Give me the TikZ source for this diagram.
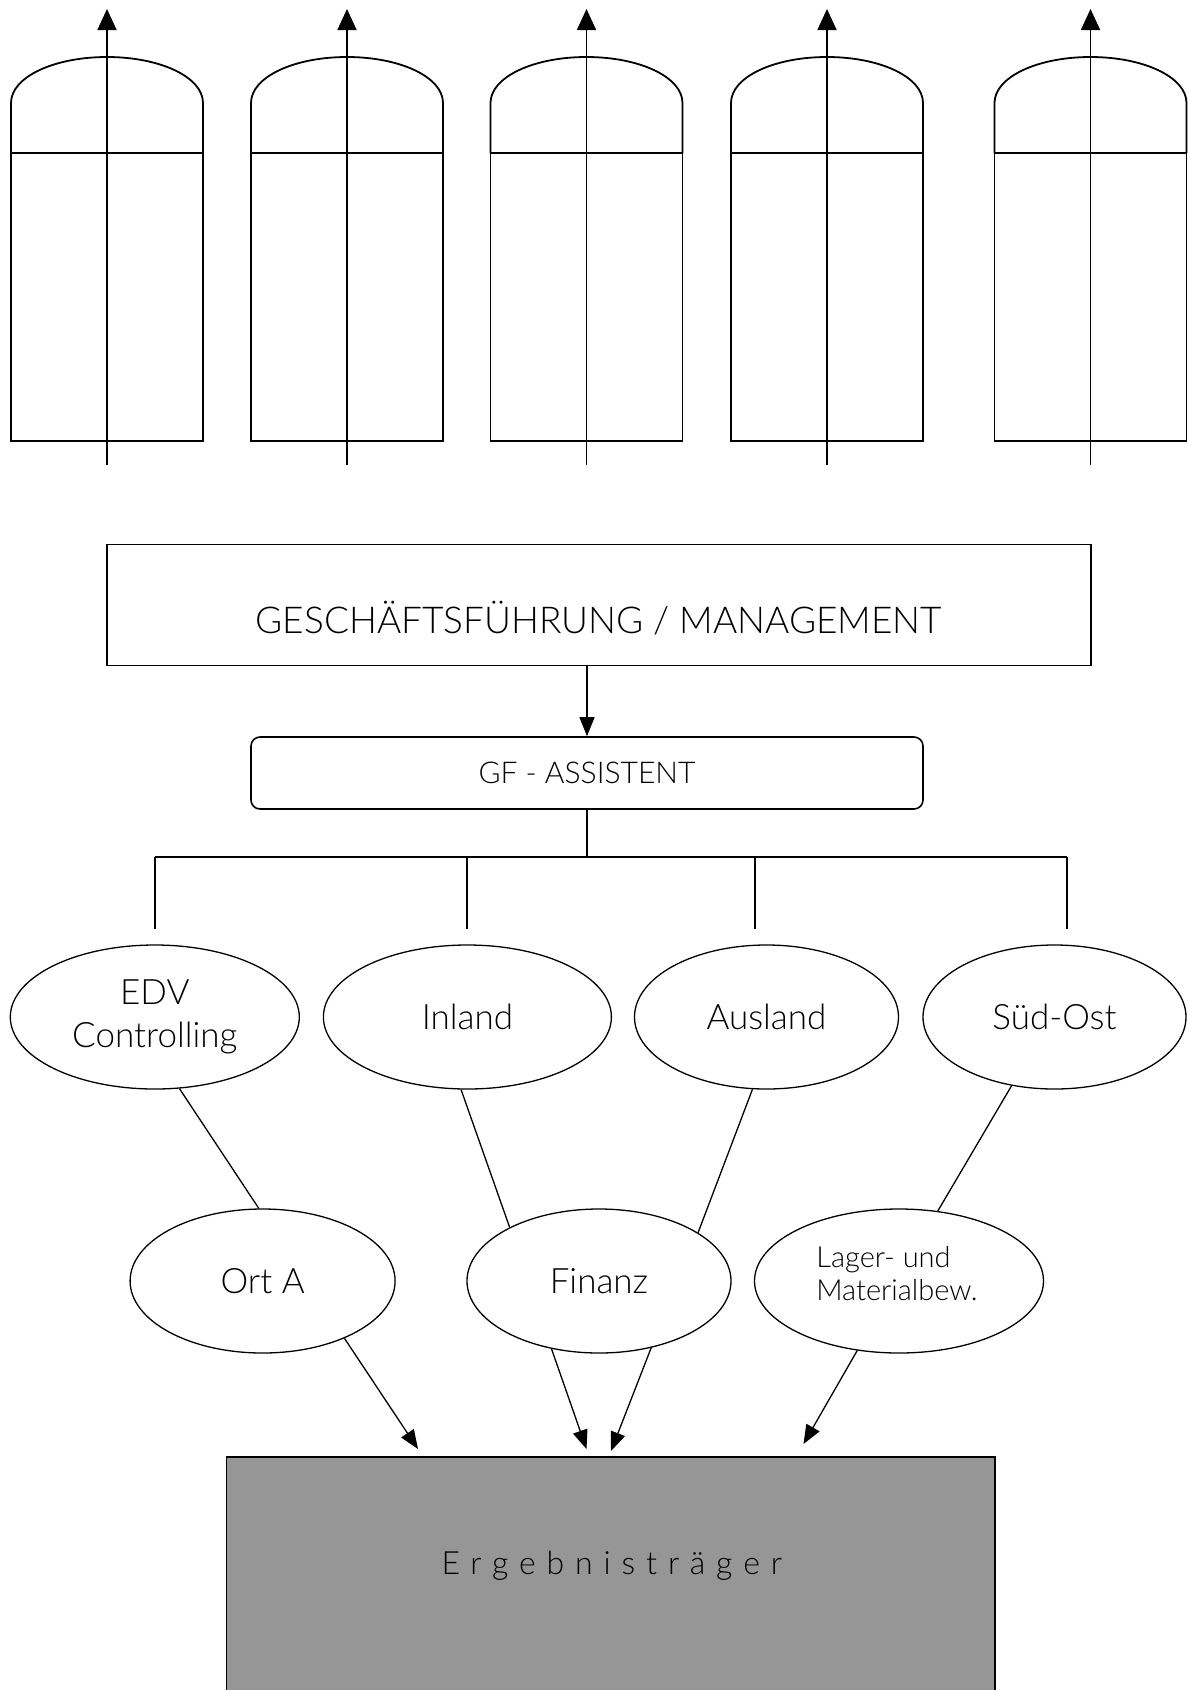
\documentclass[tikz,border=0pt]{standalone}
\usepackage{fontspec}
\setmainfont{Lato}[UprightFont={* Light}]
\usetikzlibrary{shapes.geometric,arrows.meta}
\begin{document}
\begin{tikzpicture}[x=1pt,y=-1pt,
  silo/.style={line width=1.8pt},
  uparrow/.style={line width=1.8pt,-{Triangle[length=21pt,width=19pt]}},
  conn/.style={line width=1.3pt},
  arr/.style={line width=1.3pt,-{Triangle[length=19pt,width=15pt]}},
  oval/.style={ellipse,draw,line width=1.3pt,inner sep=0pt,minimum height=144pt,font=\fontsize{35}{43}\selectfont,align=center},
  box/.style={draw,line width=1.6pt,inner sep=0pt}]
\useasboundingbox (0,0) rectangle (1187,1690);
% silos
\foreach \c in {107,347,586.5,827,1090.5}{
  \draw[silo] (\c-96,153) -- (\c-96,103) .. controls (\c-96,77) and (\c-53,57) .. (\c,57)
     .. controls (\c+53,57) and (\c+96,77) .. (\c+96,103) -- (\c+96,153);
  \draw[silo] (\c-96,153) rectangle (\c+96,441);
  \draw[uparrow] (\c,465) -- (\c,9);
}
% management
\node[box,minimum width=984pt,minimum height=121pt] (gf) at (598.85,604.8) {};
\node[font=\fontsize{37}{42}\selectfont] (gft) at (598.85,617.8) {GESCHÄFTSFÜHRUNG / MANAGEMENT};
\node[box,rounded corners=9pt,minimum width=672pt,minimum height=72pt,font=\fontsize{30}{34}\selectfont] (asst) at (587,773) {GF - ASSISTENT};
\draw[arr] (gf.south -| asst.north) -- (asst.north);
% bus
\coordinate (bus) at (587,857);
\coordinate (d1) at (155,929);
\coordinate (d2) at (467,929);
\coordinate (d3) at (755,929);
\coordinate (d4) at (1067,929);
\draw[conn] (asst.south) -- (bus);
\draw[conn] (d1 |- bus) -- (d4 |- bus);
\foreach \d in {d1,d2,d3,d4}{\draw[conn] (\d |- bus) -- (\d);}
% first row ellipses
\node[oval,minimum width=289pt] (edv) at (154.8,1017) {EDV\\Controlling};
\node[oval,minimum width=288pt] (inland) at (467.4,1017) {Inland};
\node[oval,minimum width=264pt] (ausland) at (766.5,1017) {Ausland};
\node[oval,minimum width=263pt] (sudost) at (1054.5,1017) {Süd-Ost};
% second row ellipses
\node[oval,minimum width=265pt] (orta) at (262.6,1281) {Ort A};
\node[oval,minimum width=264pt] (finanz) at (599,1281) {Finanz};
\node[oval,minimum width=289pt] (lager) at (899,1281) {};
\node[align=left,font=\fontsize{29}{33}\selectfont] (lagert) at (897,1274) {Lager- und\\Materialbew.};
% links
\draw[conn] (edv.-71.4) -- (orta.93);
\draw[conn] (inland.-95) -- (finanz.149.4);
\draw[conn] (ausland.-101) -- (finanz.26.9);
\draw[conn] (sudost.-122.9) -- (lager.61.2);
% result
\node[draw,line width=1.2pt,fill={rgb,255:red,150;green,150;blue,150},minimum width=768.6pt,minimum height=250pt,inner sep=0pt] (erg) at (610.7,1582) {};
\node[font=\fontsize{32}{36}\selectfont\addfontfeatures{LetterSpace=34}] (ergt) at (611.8,1566) {Ergebnisträger};
\coordinate (a1) at (418,1449);
\coordinate (a2) at (586.5,1449);
\coordinate (a3) at (611,1451);
\coordinate (a4) at (803.5,1444);
\draw[arr] (orta.-35.6) -- (a1);
\draw[arr] (finanz.-125.8) -- (a2);
\draw[arr] (finanz.-52) -- (a3);
\draw[arr] (lager.-121) -- (a4);
\end{tikzpicture}
\end{document}
